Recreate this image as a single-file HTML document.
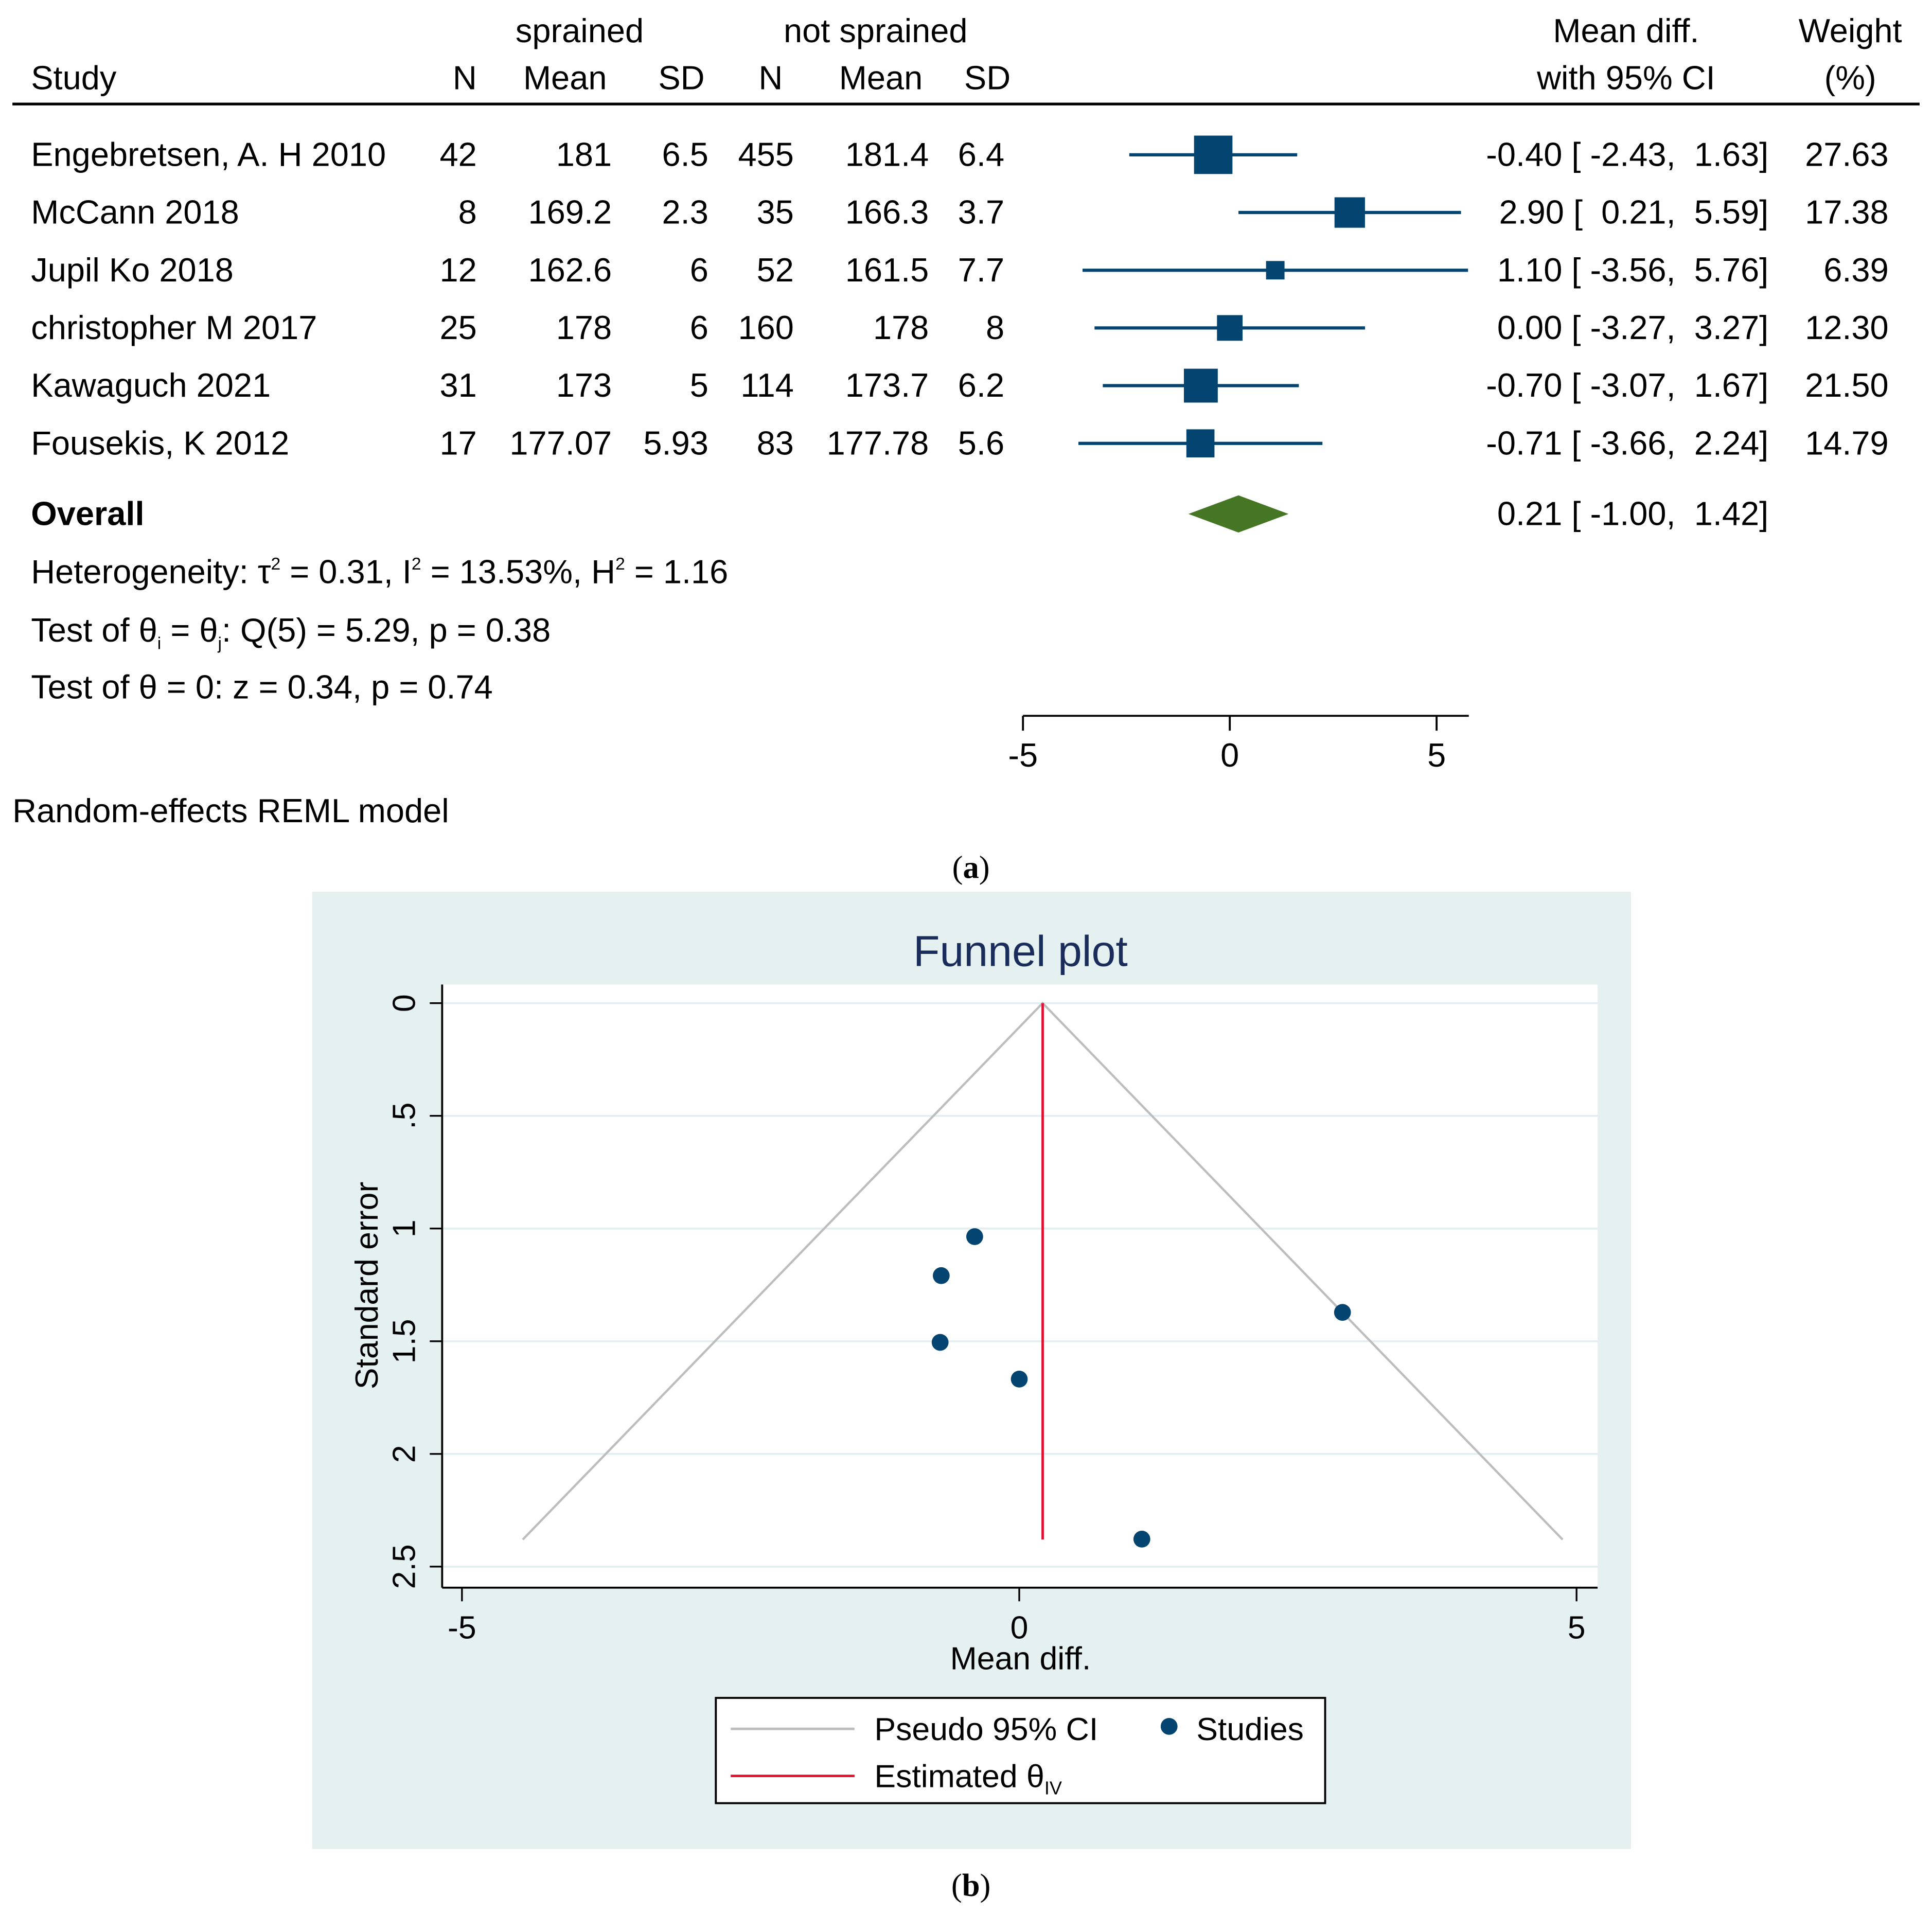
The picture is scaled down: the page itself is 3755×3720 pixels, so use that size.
<!DOCTYPE html>
<html><head><meta charset="utf-8"><style>
html,body{margin:0;padding:0;background:#fff;}
svg{display:block;font-family:"Liberation Sans",Arial,sans-serif;}
text{white-space:pre;}
</style></head><body>
<svg id="fig" width="3755" height="3720" viewBox="0 0 1560 1545.5" xmlns="http://www.w3.org/2000/svg">
<g id="forest"></g>
<g id="funnel"></g>
</svg>
<script>
// ---- Forest plot data ----
const studies = ["Engebretsen, A. H 2010","McCann 2018","Jupil Ko 2018","christopher M 2017","Kawaguch 2021","Fousekis, K 2012"];
const n1 = ["42","8","12","25","31","17"];
const mean1 = ["181","169.2","162.6","178","173","177.07"];
const sd1 = ["6.5","2.3","6","6","5","5.93"];
const n2 = ["455","35","52","160","114","83"];
const mean2 = ["181.4","166.3","161.5","178","173.7","177.78"];
const sd2 = ["6.4","3.7","7.7","8","6.2","5.6"];
const md = [-0.40, 2.90, 1.10, 0.00, -0.70, -0.71];
const lo = [-2.43, 0.21, -3.56, -3.27, -3.07, -3.66];
const hi = [1.63, 5.59, 5.76, 3.27, 1.67, 2.24];
const weight = [27.63, 17.38, 6.39, 12.30, 21.50, 14.79];
const overall = [0.21, -1.00, 1.42];
const forestTicks = [-5, 0, 5];
// ---- Funnel plot data ----
const funnelSE = [1.036, 1.372, 2.378, 1.668, 1.209, 1.505];
const funnelTicksX = [-5, 0, 5];
const funnelTicksY = [0, 0.5, 1, 1.5, 2, 2.5];
const funnelTickLabelsY = ["0", ".5", "1", "1.5", "2", "2.5"];
const thetaIV = 0.21;
const maxSE = 2.38;

const NS = "http://www.w3.org/2000/svg";
function mk(parent, tag, attrs, text) {
  const e = document.createElementNS(NS, tag);
  for (const k in attrs) e.setAttribute(k, attrs[k]);
  if (text !== undefined) e.textContent = text;
  parent.appendChild(e);
  return e;
}
const FS = 27;
const fmt = v => (v < 0 ? "-" : "") + Math.abs(v).toFixed(2);
const pad = s => " ".repeat(Math.max(0, 5 - s.length)) + s;
const ciStr = (m, l, h) => fmt(m) + " [ " + pad(fmt(l)) + ", " + pad(fmt(h)) + "]";

// ===== Forest =====
const F = document.getElementById("forest");
const fx = v => 993 + v * 33.4;
const rowY = i => 125 + i * 46.6;

function txt(p, x, y, s, anchor, name, extra) {
  const t = mk(p, "text", Object.assign({x: x, y: y, "font-size": FS, "text-anchor": anchor || "start", fill: "#000"}, extra || {}), s);
  
  
  return t;
}
txt(F, 468, 34, "sprained", "middle", "header-sprained");
txt(F, 707, 34, "not sprained", "middle", "header-not-sprained");
txt(F, 1313, 34, "Mean diff.", "middle", "header-mean-diff");
txt(F, 1494, 34, "Weight", "middle", "header-weight");
txt(F, 25, 72, "Study", "start", "header-study");
const heads = [["N",385],["Mean",490],["SD",569],["N",632],["Mean",745],["SD",816]];
heads.forEach(h => txt(F, h[1], 72, h[0], "end", "header-" + h[0].toLowerCase()));
txt(F, 1313, 72, "with 95% CI", "middle", "header-ci");
txt(F, 1494, 72, "(%)", "middle", "header-pct");
let hl = mk(F, "line", {x1: 10, y1: 84, x2: 1550, y2: 84, stroke: "#000", "stroke-width": 2.2});



studies.forEach((s, i) => {
  const y = rowY(i), by = y + 9;
  const g = mk(F, "g", {});
  
  
  txt(g, 25, by, s, "start", "study-name");
  txt(g, 385, by, n1[i], "end", "n-sprained");
  txt(g, 494, by, mean1[i], "end", "mean-sprained");
  txt(g, 572, by, sd1[i], "end", "sd-sprained");
  txt(g, 641, by, n2[i], "end", "n-not-sprained");
  txt(g, 750, by, mean2[i], "end", "mean-not-sprained");
  txt(g, 811, by, sd2[i], "end", "sd-not-sprained");
  txt(g, 1428, by, ciStr(md[i], lo[i], hi[i]), "end", "effect-ci");
  txt(g, 1525, by, weight[i].toFixed(2), "end", "weight");
  const l = mk(g, "line", {x1: fx(lo[i]), y1: y, x2: fx(hi[i]), y2: y, stroke: "#044470", "stroke-width": 2.6});
  
  
  const side = 5.9 * Math.sqrt(weight[i]);
  const r = mk(g, "rect", {x: fx(md[i]) - side / 2, y: y - side / 2, width: side, height: side, fill: "#044470"});
  
  
});
const oy = 415;
txt(F, 25, oy + 9, "Overall", "start", "overall-label", {"font-weight": "bold"});
txt(F, 1428, oy + 9, ciStr(overall[0], overall[1], overall[2]), "end", "overall-effect");
const dm = mk(F, "polygon", {points: [fx(overall[1]) + "," + oy, fx(overall[0]) + "," + (oy - 15), fx(overall[2]) + "," + oy, fx(overall[0]) + "," + (oy + 15)].join(" "), fill: "#457624"});



let het = mk(F, "text", {x: 25, y: 471, "font-size": FS});


het.innerHTML = 'Heterogeneity: τ<tspan dy="-11" font-size="14">2</tspan><tspan dy="11"> = 0.31, I</tspan><tspan dy="-11" font-size="14">2</tspan><tspan dy="11"> = 13.53%, H</tspan><tspan dy="-11" font-size="14">2</tspan><tspan dy="11"> = 1.16</tspan>';
let tq = mk(F, "text", {x: 25, y: 518, "font-size": FS});


tq.innerHTML = 'Test of θ<tspan dy="6" font-size="14">i</tspan><tspan dy="-6"> = θ</tspan><tspan dy="6" font-size="14">j</tspan><tspan dy="-6">: Q(5) = 5.29, p = 0.38</tspan>';
txt(F, 25, 564, "Test of θ = 0: z = 0.34, p = 0.74", "start", "overall-test");

let ax = mk(F, "line", {x1: fx(-5), y1: 578, x2: 1186, y2: 578, stroke: "#000", "stroke-width": 1.6});


forestTicks.forEach(t => {
  const tk = mk(F, "line", {x1: fx(t), y1: 578, x2: fx(t), y2: 590, stroke: "#000", "stroke-width": 1.6});
  
  
  txt(F, fx(t), 619, String(t), "middle", "forest-x-tick-label");
});
txt(F, 10, 664, "Random-effects REML model", "start", "model-note");
let ca = mk(F, "text", {x: 784, y: 709, "font-size": 26, "text-anchor": "middle", "font-family": "Liberation Serif, serif"});


ca.innerHTML = '(<tspan font-weight="bold">a</tspan>)';

// ===== Funnel =====
const G = document.getElementById("funnel");
const ux = v => 823 + v * 90;
const uy = v => 810 + v * 182;
let bg = mk(G, "rect", {x: 252, y: 720, width: 1065, height: 773, fill: "#e5f0f1"});


let pa = mk(G, "rect", {x: 357, y: 795, width: 933, height: 487, fill: "#fff"});


let ft = mk(G, "text", {x: 824, y: 780, "font-size": 35, "text-anchor": "middle", fill: "#1a2d5a"}, "Funnel plot");


funnelTicksY.forEach((t, i) => {
  const gl = mk(G, "line", {x1: 357, y1: uy(t), x2: 1290, y2: uy(t), stroke: "#e2eef1", "stroke-width": 1.5});
  
  
  const tk = mk(G, "line", {x1: 347, y1: uy(t), x2: 357, y2: uy(t), stroke: "#000", "stroke-width": 1.4});
  
  
  const tl = mk(G, "text", {x: 0, y: 0, "font-size": 26, "text-anchor": "middle", transform: "translate(335," + uy(t) + ") rotate(-90)"}, funnelTickLabelsY[i]);
  
  
});
let yl = mk(G, "text", {x: 0, y: 0, "font-size": 26, "text-anchor": "middle", transform: "translate(305,1038) rotate(-90)"}, "Standard error");


let yax = mk(G, "line", {x1: 357, y1: 795, x2: 357, y2: 1282, stroke: "#000", "stroke-width": 1.6});


let xax = mk(G, "line", {x1: 357, y1: 1282, x2: 1290, y2: 1282, stroke: "#000", "stroke-width": 1.6});


funnelTicksX.forEach(t => {
  const tk = mk(G, "line", {x1: ux(t), y1: 1282, x2: ux(t), y2: 1293, stroke: "#000", "stroke-width": 1.4});
  
  
  const tl = mk(G, "text", {x: ux(t), y: 1323, "font-size": 26, "text-anchor": "middle"}, String(t));
  
  
});
let xl = mk(G, "text", {x: 824, y: 1348, "font-size": 26, "text-anchor": "middle"}, "Mean diff.");


const cw = 1.96 * maxSE;
let fl = mk(G, "polyline", {points: ux(thetaIV - cw) + "," + uy(maxSE) + " " + ux(thetaIV) + "," + uy(0) + " " + ux(thetaIV + cw) + "," + uy(maxSE), fill: "none", stroke: "#bdbdbd", "stroke-width": 1.8});


let rl = mk(G, "line", {x1: ux(thetaIV), y1: uy(0), x2: ux(thetaIV), y2: uy(maxSE), stroke: "#e0102f", "stroke-width": 2});


md.forEach((m, i) => {
  const c = mk(G, "circle", {cx: ux(m), cy: uy(funnelSE[i]), r: 6.8, fill: "#044470"});
  
  
});
// legend
const L = mk(G, "g", {});


let lb = mk(L, "rect", {x: 578, y: 1371, width: 492, height: 85, fill: "#fff", stroke: "#000", "stroke-width": 1.6});


let l1 = mk(L, "line", {x1: 590, y1: 1396, x2: 690, y2: 1396, stroke: "#bdbdbd", "stroke-width": 2});


let t1 = mk(L, "text", {x: 706, y: 1405, "font-size": 26}, "Pseudo 95% CI");


let d1 = mk(L, "circle", {cx: 944, cy: 1394, r: 6.8, fill: "#044470"});


let t2 = mk(L, "text", {x: 966, y: 1405, "font-size": 26}, "Studies");


let l2 = mk(L, "line", {x1: 590, y1: 1434, x2: 690, y2: 1434, stroke: "#e0102f", "stroke-width": 2});


let t3 = mk(L, "text", {x: 706, y: 1443, "font-size": 26});


t3.innerHTML = 'Estimated θ<tspan dy="6" font-size="15">IV</tspan>';
let cb = mk(G, "text", {x: 784, y: 1531, "font-size": 26, "text-anchor": "middle", "font-family": "Liberation Serif, serif"});


cb.innerHTML = '(<tspan font-weight="bold">b</tspan>)';
</script>
</body></html>
